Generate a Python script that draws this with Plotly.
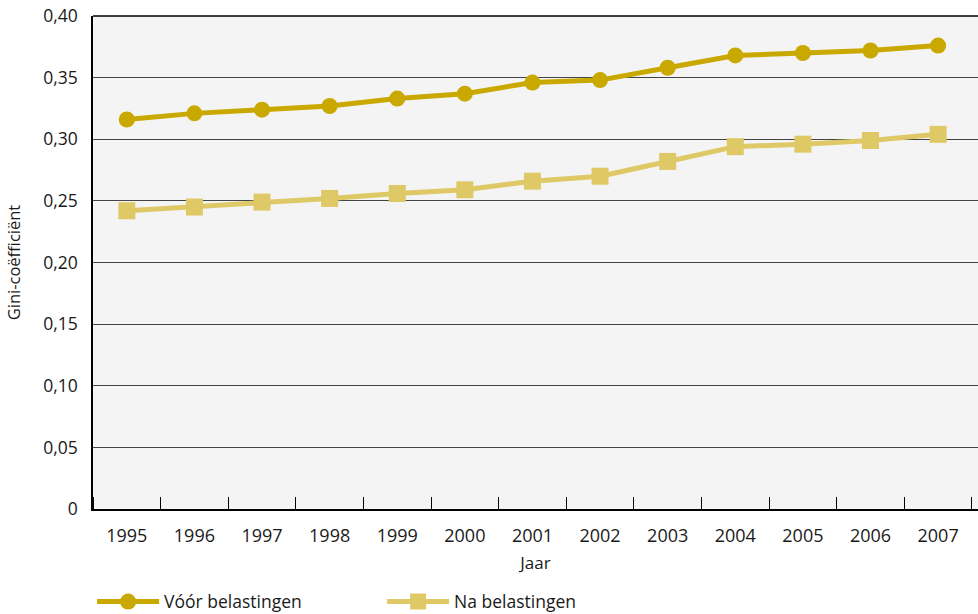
import plotly.graph_objects as go

years = ["1995", "1996", "1997", "1998", "1999", "2000", "2001",
         "2002", "2003", "2004", "2005", "2006", "2007"]
voor_belastingen = [0.316, 0.321, 0.324, 0.327, 0.333, 0.337, 0.346,
                    0.348, 0.358, 0.368, 0.370, 0.372, 0.376]
na_belastingen = [0.242, 0.245, 0.249, 0.252, 0.256, 0.259, 0.266,
                  0.270, 0.282, 0.294, 0.296, 0.299, 0.304]
y_ticks = [0, 0.05, 0.10, 0.15, 0.20, 0.25, 0.30, 0.35, 0.40]
y_ticklabels = ["0", "0,05", "0,10", "0,15", "0,20", "0,25", "0,30", "0,35", "0,40"]

FONT = "Open Sans"
x_idx = list(range(len(years)))

fig = go.Figure()
fig.add_trace(go.Scatter(
    x=x_idx, y=voor_belastingen, name="Vóór belastingen",
    mode="lines+markers",
    line=dict(color="#C9A800", width=5),
    marker=dict(symbol="circle", size=16, color="#C9A800"),
))
fig.add_trace(go.Scatter(
    x=x_idx, y=na_belastingen, name="Na belastingen",
    mode="lines+markers",
    line=dict(color="#DFC966", width=5),
    marker=dict(symbol="square", size=17, color="#DFC966"),
))

fig.update_layout(
    width=978, height=614,
    margin=dict(l=93, r=0, t=16, b=105, autoexpand=False),
    paper_bgcolor="white",
    plot_bgcolor="#F4F4F4",
    font=dict(family=FONT, size=16, color="#1a1a1a"),
    showlegend=True,
    legend=dict(
        orientation="h", x=-0.001, xanchor="left", y=-0.188, yanchor="middle",
        itemwidth=62, entrywidth=213, font=dict(size=17.5, family=FONT),
        bgcolor="rgba(0,0,0,0)",
    ),
    xaxis=dict(
        range=[-0.5, 12.59], automargin=False,
        tickmode="array", tickvals=x_idx, ticktext=years,
        ticks="", showgrid=False, zeroline=False,
        showline=True, linecolor="black", linewidth=1.5,
        tickfont=dict(size=18), ticklabelstandoff=10,
        minor=dict(tick0=0.5, dtick=1, ticks="inside", ticklen=12,
                   tickcolor="black", tickwidth=1, showgrid=False),
        title=dict(text="Jaar", standoff=11, font=dict(size=17)),
        mirror=False,
    ),
    yaxis=dict(
        range=[0, 0.40], automargin=False,
        tickmode="array", tickvals=y_ticks, ticktext=y_ticklabels,
        ticks="", showgrid=True, gridcolor="#444444", gridwidth=1,
        zeroline=False, showline=True, linecolor="black", linewidth=1.5,
        tickfont=dict(size=17.5), ticklabelstandoff=10,
        title=dict(text="Gini-coëfficiënt", standoff=18, font=dict(size=16.5)),
    ),
)
# top border line of the plot area
fig.add_shape(type="line", xref="paper", yref="paper", x0=0, x1=1, y0=1, y1=1,
              line=dict(color="black", width=1.5))

fig.write_html("out.html", config={"displayModeBar": False},
               post_script="document.body.style.margin='0';document.body.style.overflow='hidden';")
